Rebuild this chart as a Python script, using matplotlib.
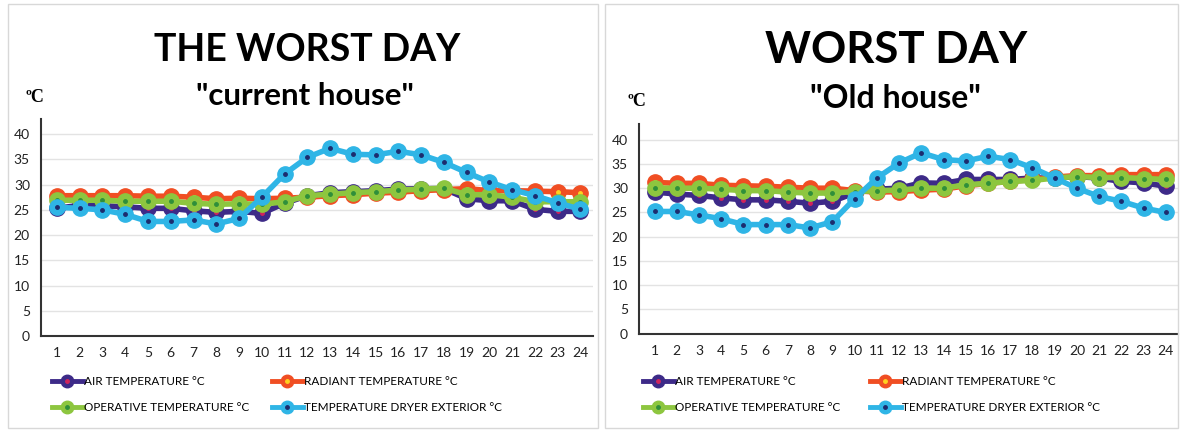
import numpy as np
import matplotlib
matplotlib.use('Agg')
import matplotlib.pyplot as plt
from matplotlib.patches import Rectangle
from matplotlib.lines import Line2D

plt.rcParams['font.family'] = ['Lato', 'DejaVu Sans']

hours = list(range(1, 25))

# current house
cur_air = [25.3, 25.9, 25.8, 25.6, 25.3, 25.3, 24.8, 24.5, 24.7, 24.3, 26.3, 27.8,
           28.4, 28.6, 28.8, 29.1, 29.2, 29.2, 27.2, 26.8, 26.8, 25.1, 24.7, 24.7]
cur_rad = [27.8, 27.8, 27.8, 27.8, 27.7, 27.7, 27.5, 27.2, 27.3, 27.2, 27.3, 27.5,
           27.8, 28.0, 28.3, 28.5, 28.8, 29.0, 29.2, 28.8, 28.8, 28.7, 28.6, 28.4]
cur_op = [26.9, 26.9, 26.9, 26.7, 26.7, 26.7, 26.3, 26.1, 26.2, 26.1, 26.6, 27.8,
          28.1, 28.4, 28.6, 28.9, 29.1, 29.3, 28.0, 28.0, 27.5, 26.6, 26.6, 26.6]
cur_ext = [25.5, 25.3, 25.0, 24.1, 22.7, 22.7, 23.0, 22.2, 23.3, 27.5, 32.1, 35.4,
           37.2, 36.0, 35.9, 36.6, 35.9, 34.4, 32.4, 30.5, 29.0, 27.8, 26.4, 25.1]

# old house
old_air = [29.2, 28.8, 28.5, 28.0, 27.6, 27.6, 27.3, 26.9, 27.3, 29.0, 29.8, 30.0,
           31.1, 31.0, 31.8, 31.8, 31.8, 32.1, 32.1, 32.4, 32.1, 31.4, 31.1, 30.4]
old_rad = [31.2, 31.0, 31.0, 30.6, 30.5, 30.4, 30.2, 30.0, 30.0, 29.5, 29.2, 29.3,
           29.6, 29.8, 30.5, 31.0, 31.4, 31.8, 32.3, 32.6, 32.6, 32.8, 32.8, 32.8]
old_op = [30.0, 30.0, 30.0, 29.8, 29.5, 29.5, 29.2, 29.0, 29.0, 29.3, 29.5, 29.6,
          30.0, 30.0, 30.7, 31.0, 31.4, 31.6, 32.1, 32.4, 32.2, 32.2, 32.0, 31.8]
old_ext = [25.2, 25.2, 24.5, 23.7, 22.5, 22.5, 22.5, 21.8, 23.1, 27.8, 32.1, 35.2,
           37.3, 35.9, 35.6, 36.6, 35.9, 34.2, 32.1, 30.0, 28.3, 27.3, 25.9, 25.0]

labels = ['AIR TEMPERATURE °C', 'RADIANT TEMPERATURE °C',
          'OPERATIVE TEMPERATURE °C', 'TEMPERATURE DRYER EXTERIOR °C']
colors = ['#3d2a88', '#f04e23', '#8dc63f', '#2fb5e6']
dots = ['#d0245c', '#ffd21f', '#2f8f3a', '#1c2c6e']


def panel(ax, series, ymax):
    for i, s in enumerate(series):
        ax.plot(hours, s, color=colors[i], lw=4, marker='o', ms=11,
                solid_capstyle='round', zorder=3 + i)
        ax.plot(hours, s, ls='none', marker='o', ms=2.5, color=dots[i],
                zorder=3 + i)
    ax.set_xlim(0.3, 24.55)
    ax.set_ylim(0, ymax)
    ax.set_xticks(hours)
    ax.set_yticks(range(0, 45, 5))
    ax.grid(axis='y', color='#e3e3e3', lw=1)
    ax.set_axisbelow(True)
    for sp in ['top', 'right']:
        ax.spines[sp].set_visible(False)
    for sp in ['left', 'bottom']:
        ax.spines[sp].set_color('#333333')
        ax.spines[sp].set_linewidth(1.5)
    ax.tick_params(length=0, labelsize=10, colors='#222222', pad=8)


def handle(i):
    return (Line2D([], [], color=colors[i], lw=3.5, marker='o', ms=9),
            Line2D([], [], ls='none', color=dots[i], marker='o', ms=2.5))


fig = plt.figure(figsize=(11.81, 4.32), dpi=100)

# panel frames
fig.patches.append(Rectangle((8 / 1181, 4 / 432), 590 / 1181, 424 / 432,
                             transform=fig.transFigure, fill=False, ec='#d8d8d8', lw=1))
fig.patches.append(Rectangle((605 / 1181, 4 / 432), 573 / 1181, 424 / 432,
                             transform=fig.transFigure, fill=False, ec='#d8d8d8', lw=1))

ax1 = fig.add_axes([41 / 1181, 1 - 336 / 432, 552 / 1181, 217 / 432])
panel(ax1, [cur_air, cur_rad, cur_op, cur_ext], 43)

ax2 = fig.add_axes([639 / 1181, 1 - 333.7 / 432, 539 / 1181, 210 / 432])
panel(ax2, [old_air, old_rad, old_op, old_ext], 43.3)

fig.text(307 / 1181, 1 - 50 / 432, 'THE WORST DAY', ha='center', va='center',
         fontsize=27, fontweight='bold')
fig.text(305 / 1181, 1 - 96 / 432, '"current house"', ha='center', va='center',
         fontsize=22.5, fontweight='bold')
fig.text(896 / 1181, 1 - 50 / 432, 'WORST DAY', ha='center', va='center',
         fontsize=31.5, fontweight='bold')
fig.text(895 / 1181, 1 - 99 / 432, '"Old house"', ha='center', va='center',
         fontsize=23, fontweight='bold')
fig.text(35 / 1181, 1 - 98 / 432, 'ºC', ha='center', va='center', fontsize=13,
         fontweight='bold', family='Liberation Serif')
fig.text(637 / 1181, 1 - 102 / 432, 'ºC', ha='center', va='center', fontsize=13,
         fontweight='bold', family='Liberation Serif')

# legends: two columns per panel, placed by handle start
for cols in [(52, 272), (643, 870)]:
    for c, x0 in enumerate(cols):
        idx = [c, c + 2]
        fig.legend([handle(i) for i in idx], [labels[i] for i in idx],
                   loc='upper left', bbox_to_anchor=(x0 / 1181, 1 - 376 / 432),
                   frameon=False, fontsize=8.5, handlelength=2.6,
                   handletextpad=0.15, labelspacing=1.25, borderaxespad=0,
                   borderpad=0)

fig.savefig('out.png', dpi=100)
